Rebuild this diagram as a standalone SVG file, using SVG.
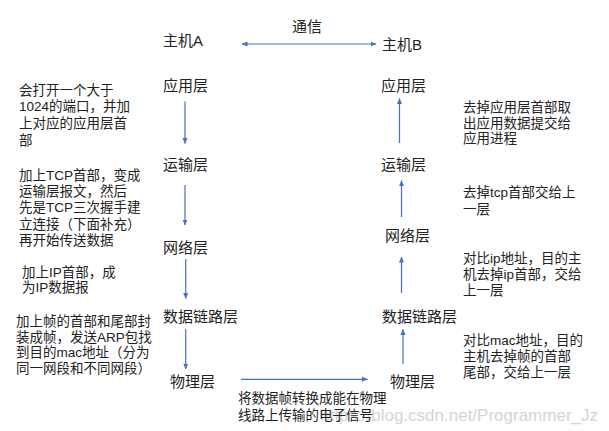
<svg xmlns="http://www.w3.org/2000/svg" width="609" height="431" viewBox="0 0 609 431">
<style>
text{font-family:"Liberation Sans","Noto Sans CJK SC",sans-serif;fill:#222}
.n{font-size:15px}
.t{font-size:13.5px}
.wm{font-size:17px;fill:#d4d4d4}
.c line{stroke:#4472C4;stroke-width:1.2}
</style>
<defs>
<marker id="ah" markerUnits="userSpaceOnUse" markerWidth="6" markerHeight="6" viewBox="0 0 6 6" refX="5.5" refY="3" orient="auto-start-reverse">
<path d="M0,0.5 L6,3 L0,5.5 Z" fill="#4472C4"/>
</marker>
</defs>
<rect width="609" height="431" fill="#fff"/>
<text class="wm" x="598" y="421" text-anchor="end">https://blog.csdn.net/Programmer_Jz</text>
<g id="comm"><text class="n" x="292" y="32">通信</text></g>
<g id="hostA"><text class="n" x="163" y="46">主机A</text></g>
<g id="hostB"><text class="n" x="382" y="49.5">主机B</text></g>
<g id="A-app"><text class="n" x="163" y="91">应用层</text></g>
<g id="A-trans"><text class="n" x="163" y="169.5">运输层</text></g>
<g id="A-net"><text class="n" x="163" y="252.5">网络层</text></g>
<g id="A-link"><text class="n" x="163" y="322">数据链路层</text></g>
<g id="A-phy"><text class="n" x="170" y="387">物理层</text></g>
<g id="B-app"><text class="n" x="381" y="91">应用层</text></g>
<g id="B-trans"><text class="n" x="381" y="169.5">运输层</text></g>
<g id="B-net"><text class="n" x="385" y="241">网络层</text></g>
<g id="B-link"><text class="n" x="382" y="322">数据链路层</text></g>
<g id="B-phy"><text class="n" x="390" y="387">物理层</text></g>
<g id="note-A-app" class="t">
<text x="19" y="94.5">会打开一个大于</text>
<text x="19" y="111.3">1024的端口，并加</text>
<text x="19" y="128.1">上对应的应用层首</text>
<text x="19" y="144.9">部</text>
</g>
<g id="note-A-trans" class="t">
<text x="19" y="180">加上TCP首部，变成</text>
<text x="19" y="196.2">运输层报文，然后</text>
<text x="19" y="212.4">先是TCP三次握手建</text>
<text x="19" y="228.6">立连接（下面补充）</text>
<text x="19" y="244.8">再开始传送数据</text>
</g>
<g id="note-A-net" class="t">
<text x="22" y="276.5">加上IP首部，成</text>
<text x="22" y="292">为IP数据报</text>
</g>
<g id="note-A-link" class="t">
<text x="16" y="326">加上帧的首部和尾部封</text>
<text x="16" y="341.7">装成帧，发送ARP包找</text>
<text x="16" y="357.4">到目的mac地址（分为</text>
<text x="16" y="373.1">同一网段和不同网段）</text>
</g>
<g id="note-B-app" class="t">
<text x="463" y="112">去掉应用层首部取</text>
<text x="463" y="127.5">出应用数据提交给</text>
<text x="463" y="143">应用进程</text>
</g>
<g id="note-B-trans" class="t">
<text x="463" y="197">去掉tcp首部交给上</text>
<text x="463" y="214">一层</text>
</g>
<g id="note-B-net" class="t">
<text x="463" y="262.7">对比ip地址，目的主</text>
<text x="463" y="278.7">机去掉ip首部，交给</text>
<text x="463" y="295">上一层</text>
</g>
<g id="note-B-link" class="t">
<text x="463" y="345">对比mac地址，目的</text>
<text x="463" y="361">主机去掉帧的首部</text>
<text x="463" y="376.5">尾部，交给上一层</text>
</g>
<g id="note-phy" class="t">
<text x="238" y="403">将数据帧转换成能在物理</text>
<text x="238" y="419.5">线路上传输的电子信号</text>
</g>
<g id="connectors" class="c">
<line x1="242" y1="44" x2="376" y2="44" marker-start="url(#ah)" marker-end="url(#ah)"/>
<line x1="185" y1="101.5" x2="185" y2="143.5" marker-end="url(#ah)"/>
<line x1="185" y1="185" x2="185" y2="225" marker-end="url(#ah)"/>
<line x1="185.7" y1="259" x2="185.7" y2="298.5" marker-end="url(#ah)"/>
<line x1="185.7" y1="329" x2="185.7" y2="369" marker-end="url(#ah)"/>
<line x1="241" y1="379.3" x2="367.5" y2="379.3" marker-end="url(#ah)"/>
<line x1="399.5" y1="143" x2="399.5" y2="98.5" marker-end="url(#ah)"/>
<line x1="401.5" y1="217" x2="401.5" y2="180.5" marker-end="url(#ah)"/>
<line x1="401.5" y1="293" x2="401.5" y2="257" marker-end="url(#ah)"/>
<line x1="403" y1="364" x2="403" y2="329.5" marker-end="url(#ah)"/>
</g>
</svg>
